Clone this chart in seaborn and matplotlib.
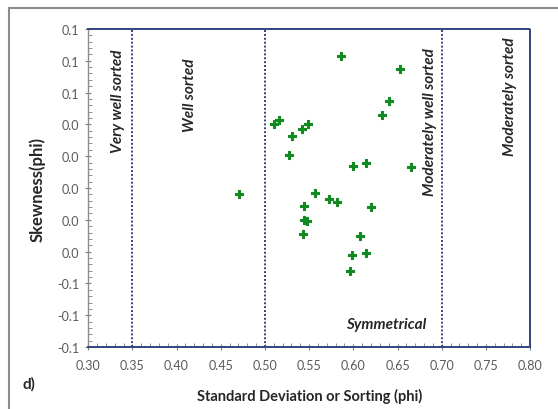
import matplotlib
matplotlib.use("Agg")
import matplotlib.pyplot as plt
from matplotlib.patches import Rectangle
from matplotlib.ticker import MultipleLocator
import pandas as pd
import seaborn as sns

# ================= DATA =================
sorting = [0.586, 0.653, 0.640, 0.632, 0.516, 0.510, 0.549, 0.542, 0.531, 0.527,
           0.600, 0.614, 0.665, 0.471, 0.557, 0.573, 0.582, 0.544, 0.620, 0.544,
           0.548, 0.543, 0.608, 0.614, 0.598, 0.596]
skewness = [0.083, 0.075, 0.055, 0.046, 0.043, 0.040, 0.040, 0.037, 0.033, 0.021,
            0.014, 0.016, 0.013, -0.004, -0.003, -0.007, -0.009, -0.011, -0.012, -0.020,
            -0.021, -0.029, -0.030, -0.041, -0.042, -0.052]

x_ticks = [0.30, 0.35, 0.40, 0.45, 0.50, 0.55, 0.60, 0.65, 0.70, 0.75, 0.80]
y_ticks = [0.10, 0.08, 0.06, 0.04, 0.02, 0.00, -0.02, -0.04, -0.06, -0.08, -0.10]
y_tick_labels = ["0.1", "0.1", "0.1", "0.0", "0.0", "0.0", "0.0", "0.0", "-0.1", "-0.1", "-0.1"]
class_bounds = [0.35, 0.50, 0.70]
class_names = ["Very well sorted", "Well sorted", "Moderately well sorted", "Moderately sorted"]
class_x = [0.334, 0.415, 0.687, 0.777]
class_y = [0.055, 0.059, 0.042, 0.058]

df = pd.DataFrame({"sorting": sorting, "skewness": skewness})

# ================= PLOT =================
sns.set_style("white")
plt.rcParams["font.family"] = ["Lato", "DejaVu Sans"]

fig = plt.figure(figsize=(5.58, 4.10), dpi=100)
ax = fig.add_axes([0.158, 0.151, 0.792, 0.776])

grid_blue = "#34437f"
for xb in class_bounds:
    ax.axvline(xb, color=grid_blue, linestyle=(0, (1, 1)), linewidth=1.4, zorder=1)

sns.scatterplot(data=df, x="sorting", y="skewness", ax=ax, marker="P",
                color="#118a22", s=30, edgecolor="#118a22", linewidth=0.8, zorder=3)

ax.set_xlim(0.30, 0.80)
ax.set_ylim(-0.10, 0.10)
ax.set_xticks(x_ticks)
ax.set_xticklabels([f"{v:.2f}" for v in x_ticks])
ax.set_yticks(y_ticks)
ax.set_yticklabels(y_tick_labels)
ax.xaxis.set_minor_locator(MultipleLocator(0.01))
ax.yaxis.set_minor_locator(MultipleLocator(0.004))
ax.tick_params(axis="both", which="both", bottom=True, left=True)
ax.tick_params(axis="both", which="major", labelsize=9, labelcolor="#595959",
               color="#7f7f7f", length=5, width=0.8, direction="inout", pad=4)
ax.tick_params(axis="both", which="minor", color="#7f7f7f", length=3, width=0.6,
               direction="in")
ax.tick_params(axis="x", which="major", pad=6)

for side in ["top", "right", "bottom"]:
    ax.spines[side].set_color(grid_blue)
    ax.spines[side].set_linestyle((0, (1, 1)))
    ax.spines[side].set_linewidth(1.4)
ax.spines["left"].set_color("#8c8c8c")
ax.spines["left"].set_linewidth(1.0)

ax.set_xlabel("Standard Deviation or Sorting (phi)", fontsize=10.5, fontweight="bold",
              labelpad=12)
ax.set_ylabel("Skewness(phi)", fontsize=12, fontweight="bold", labelpad=8)

for name, tx, ty in zip(class_names, class_x, class_y):
    ax.text(tx, ty, name, rotation=90, ha="center", va="center", fontsize=11,
            fontweight="bold", fontstyle="italic", zorder=2)
ax.text(0.637, -0.0855, "Symmetrical", ha="center", va="center", fontsize=11,
        fontweight="bold", fontstyle="italic")

fig.text(0.04, 0.062, "d)", fontsize=11, fontweight="bold", ha="left", va="center")

# outer chart frame
fig.patches.append(Rectangle((9 / 558, -0.1), 1.2, 1.1 - 9 / 410,
                             transform=fig.transFigure, fill=False,
                             edgecolor="#8c8c8c", linewidth=1.5))

fig.savefig("out.png", dpi=100)
